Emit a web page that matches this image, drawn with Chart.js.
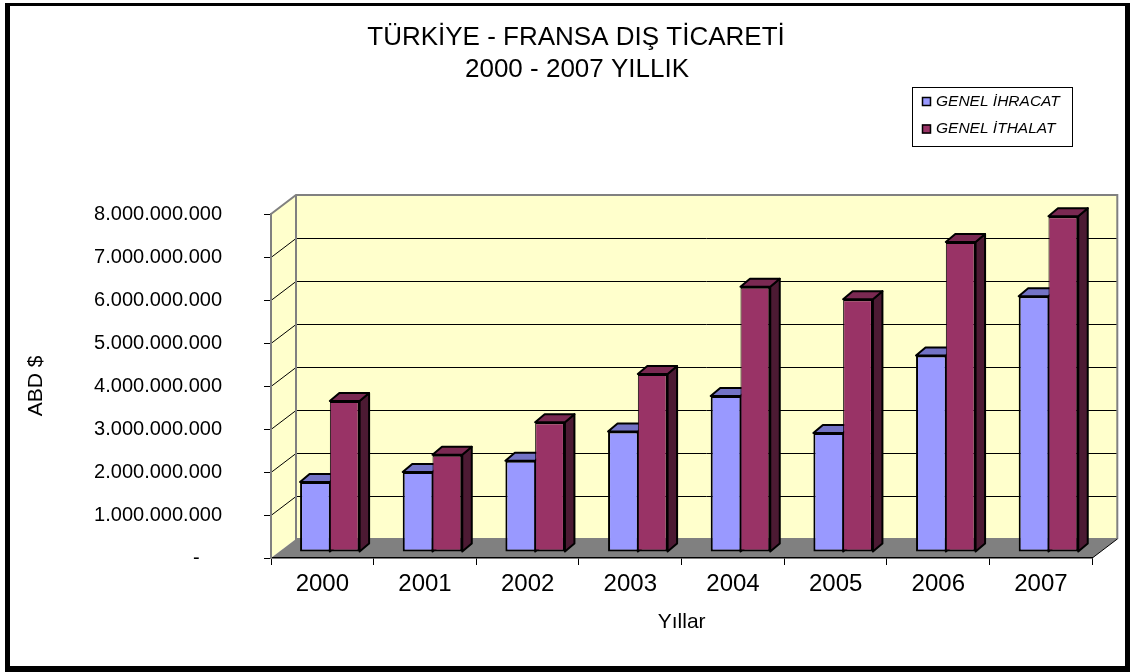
<!DOCTYPE html>
<html lang="tr">
<head>
  <meta charset="UTF-8" />
  <title>Türkiye - Fransa Dış Ticareti</title>
  <script src="https://cdn.jsdelivr.net/npm/chart.js"></script>
  <style>
    body {
      margin: 0;
      padding: 0;
      background: #fff;
      overflow: hidden;
    }

    #chart-container {
      width: 1135px;
      height: 672px;
    }
  </style>
</head>
<body>
  <div id="chart-container">
    <canvas id="myChart" width="1135" height="672"></canvas>
  </div>

  <script>
    const years = ['2000', '2001', '2002', '2003', '2004', '2005', '2006', '2007'];
    const ihracat = [1.63e9, 1.86e9, 2.12e9, 2.80e9, 3.63e9, 2.77e9, 4.57e9, 5.95e9];
    const ithalat = [3.51e9, 2.26e9, 3.02e9, 4.14e9, 6.17e9, 5.88e9, 7.21e9, 7.81e9];
    const yTickLabels = ['-', '1.000.000.000', '2.000.000.000', '3.000.000.000', '4.000.000.000',
      '5.000.000.000', '6.000.000.000', '7.000.000.000', '8.000.000.000'];
    const seriesNames = ['GENEL İHRACAT', 'GENEL İTHALAT'];
    const titleLines = ['TÜRKİYE - FRANSA DIŞ TİCARETİ', '2000 - 2007 YILLIK'];

    // fake 3D: depth offsets (px) of the back wall, the bar front plane and the bar thickness
    const WALL = { dx: 25, dy: -19 };
    const BAR_POS = { dx: 7.5, dy: -6 };
    const BAR_DEPTH = { dx: 9.5, dy: -8 };

    const FONT = "'Liberation Sans', Arial, sans-serif";
    Chart.defaults.font.family = FONT;
    Chart.defaults.color = '#000';

    function poly(ctx, pts, fill, stroke, lw) {
      ctx.beginPath();
      ctx.moveTo(pts[0][0], pts[0][1]);
      for (let i = 1; i < pts.length; i++) ctx.lineTo(pts[i][0], pts[i][1]);
      ctx.closePath();
      if (fill) {
        ctx.fillStyle = fill;
        ctx.fill();
      }
      if (stroke) {
        ctx.strokeStyle = stroke;
        ctx.lineWidth = lw || 1;
        ctx.stroke();
      }
    }

    const pseudo3d = {
      id: 'pseudo3d',
      beforeDraw(chart) {
        const { ctx, chartArea: a, scales: { y } } = chart;
        const L = a.left, R = a.right, T = a.top, B = a.bottom;
        const dx = WALL.dx, dy = WALL.dy;
        ctx.save();

        // outer black frame
        ctx.fillStyle = '#000';
        ctx.fillRect(5, 3, 1125, 669);
        ctx.fillStyle = '#fff';
        ctx.fillRect(10, 6, 1115, 660);

        // back wall, left wall, floor
        poly(ctx, [[L + dx, T + dy], [R + dx, T + dy], [R + dx, B + dy], [L + dx, B + dy]], '#FFFFCC');
        poly(ctx, [[L, B], [L, T], [L + dx, T + dy], [L + dx, B + dy]], '#FFFFCC');
        poly(ctx, [[L, B], [R, B], [R + dx, B + dy], [L + dx, B + dy]], '#808080');

        // gridlines on both walls
        ctx.strokeStyle = '#000';
        ctx.lineWidth = 1;
        y.ticks.forEach(t => {
          if (t.value <= y.min || t.value >= y.max) return;
          const py = Math.round(y.getPixelForValue(t.value)) + 0.5;
          ctx.beginPath();
          ctx.moveTo(L, py);
          ctx.lineTo(L + dx, py + dy);
          ctx.lineTo(R + dx, py + dy);
          ctx.stroke();
        });

        // wall edges
        ctx.strokeStyle = '#808080';
        ctx.lineWidth = 2;
        ctx.beginPath();
        ctx.moveTo(L, T);
        ctx.lineTo(L + dx, T + dy);
        ctx.lineTo(R + dx, T + dy);
        ctx.lineTo(R + dx, B + dy);
        ctx.moveTo(L + dx, T + dy);
        ctx.lineTo(L + dx, B + dy);
        ctx.lineTo(R + dx, B + dy);
        ctx.stroke();

        ctx.strokeStyle = '#000';
        ctx.lineWidth = 1;
        ctx.beginPath();
        ctx.moveTo(R, B);
        ctx.lineTo(R + dx, B + dy);
        ctx.stroke();
        ctx.restore();
      },
      beforeDatasetsDraw(chart) {
        const { ctx } = chart;
        ctx.save();
        ctx.translate(BAR_POS.dx, BAR_POS.dy);
        const dx = BAR_DEPTH.dx, dy = BAR_DEPTH.dy;
        ctx.lineJoin = 'round';
        chart.data.datasets.forEach((ds, i) => {
          chart.getDatasetMeta(i).data.forEach(bar => {
            const { x, y, base, width } = bar.getProps(['x', 'y', 'base', 'width'], true);
            const l = x - width / 2, r = x + width / 2;
            poly(ctx, [[r, y], [r + dx, y + dy], [r + dx, base + dy], [r, base]], ds.sideColor, '#000', 2);
            poly(ctx, [[l, y], [l + dx, y + dy], [r + dx, y + dy], [r, y]], ds.topColor, '#000', 2);
          });
        });
      },
      afterDatasetsDraw(chart) {
        chart.ctx.restore();
      },
      afterDraw(chart) {
        const { ctx } = chart;
        ctx.save();

        // title
        ctx.fillStyle = '#000';
        ctx.textAlign = 'center';
        ctx.textBaseline = 'alphabetic';
        ctx.font = '26px ' + FONT;
        ctx.fillText(titleLines[0], 576, 44.7);
        ctx.fillText(titleLines[1], 577, 76.7);

        // legend box
        ctx.fillStyle = '#fff';
        ctx.fillRect(912, 87, 160, 59);
        ctx.strokeStyle = '#000';
        ctx.lineWidth = 1;
        ctx.strokeRect(912.5, 87.5, 160, 59);
        ctx.textAlign = 'left';
        ctx.textBaseline = 'middle';
        ctx.font = 'italic 15.5px ' + FONT;
        chart.data.datasets.forEach((ds, i) => {
          const cy = 101.5 + i * 27.5;
          ctx.fillStyle = ds.backgroundColor;
          ctx.fillRect(922, cy - 4.5, 9, 9);
          ctx.lineWidth = 1.5;
          ctx.strokeRect(922.5, cy - 4, 8, 8);
          ctx.fillStyle = '#000';
          ctx.fillText(ds.label, 936, cy);
        });
        ctx.restore();
      }
    };

    const ctx = document.getElementById('myChart').getContext('2d');

    new Chart(ctx, {
      type: 'bar',
      data: {
        labels: years,
        datasets: [{
          label: seriesNames[0],
          data: ihracat,
          backgroundColor: '#9999FF',
          topColor: '#7373C6',
          sideColor: '#5C5C99',
          borderColor: '#000',
          borderWidth: { left: 2, top: 2, right: 1, bottom: 2 },
          borderSkipped: false,
          clip: false
        }, {
          label: seriesNames[1],
          data: ithalat,
          backgroundColor: '#993366',
          topColor: '#7A2952',
          sideColor: '#4C1A33',
          borderColor: '#000',
          borderWidth: { left: 1, top: 2, right: 2, bottom: 2 },
          borderSkipped: false,
          clip: false
        }]
      },
      options: {
        responsive: false,
        animation: false,
        layout: {
          padding: { left: 15, right: 42.7, top: 214, bottom: 30 }
        },
        datasets: {
          bar: {
            categoryPercentage: 0.58,
            barPercentage: 1.0
          }
        },
        scales: {
          x: {
            afterFit: scale => { scale.height = 84; },
            grid: {
              offset: true,
              drawOnChartArea: false,
              color: '#000',
              tickLength: 7
            },
            border: { color: '#000', width: 1.5 },
            ticks: {
              font: { size: 24 },
              padding: 5,
              maxRotation: 0
            },
            title: {
              display: true,
              text: 'Yıllar',
              font: { size: 21 },
              padding: { top: 0, bottom: 7 }
            }
          },
          y: {
            min: 0,
            max: 8e9,
            afterFit: scale => { scale.width = 256; },
            grid: {
              drawOnChartArea: false,
              color: '#000',
              tickLength: 7
            },
            border: { color: '#808080', width: 2 },
            ticks: {
              stepSize: 1e9,
              font: { size: 20 },
              padding: 42,
              // accounting style: the zero dash sits left of the number column
              callback: (v, i) => yTickLabels[i] === '-' ? '-    ' : yTickLabels[i]
            },
            title: {
              display: true,
              text: 'ABD $',
              font: { size: 21 },
              padding: { top: 9, bottom: 0 }
            }
          }
        },
        plugins: {
          legend: { display: false },
          title: { display: false },
          tooltip: { enabled: false }
        }
      },
      plugins: [pseudo3d]
    });
  </script>
</body>
</html>
